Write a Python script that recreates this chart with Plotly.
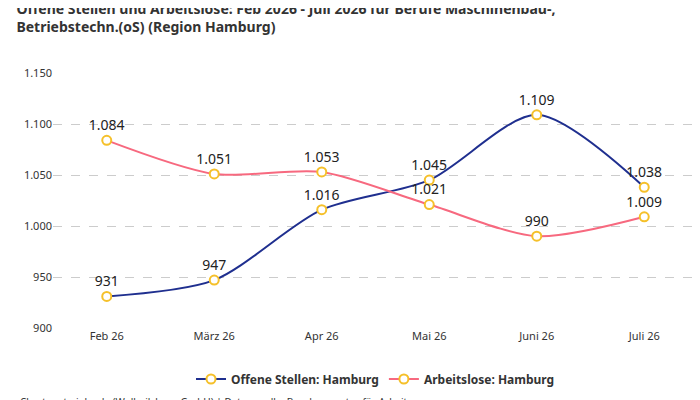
import plotly.graph_objects as go

months = ["Feb 26", "März 26", "Apr 26", "Mai 26", "Juni 26", "Juli 26"]
offene_stellen = [931, 947, 1016, 1045, 1109, 1038]
arbeitslose = [1084, 1051, 1053, 1021, 990, 1009]

fig = go.Figure()

for name, vals, color in [
    ("<b>Offene Stellen: Hamburg</b>", offene_stellen, "#1f2f8f"),
    ("<b>Arbeitslose: Hamburg</b>", arbeitslose, "#f7697f"),
]:
    fig.add_trace(go.Scatter(
        x=months, y=vals, name=name,
        mode="lines+markers+text",
        line=dict(color=color, width=2, shape="spline", smoothing=0.8),
        marker=dict(size=9, color="white", line=dict(color="#f5c02a", width=2)),
        text=[f"{v:,}".replace(",", ".") for v in vals],
        textposition="top center",
        textfont=dict(size=14, color="#222"),
    ))

fig.update_layout(
    width=700, height=400,
    font=dict(family="Noto Sans", color="#333"),
    separators=",.",
    title=dict(
        text="<b>Offene Stellen und Arbeitslose: Feb 2026 - Juli 2026 für Berufe Maschinenbau-,<br>Betriebstechn.(oS) (Region Hamburg)</b>",
        x=0.012, y=0.985, xanchor="left", yanchor="top",
        font=dict(size=14, color="#333"),
    ),
    margin=dict(l=45, r=10, t=65, b=80),
    paper_bgcolor="white", plot_bgcolor="white",
    showlegend=True,
    legend=dict(orientation="h", x=0.5, xanchor="center", y=-0.2, yanchor="middle",
                font=dict(size=12, color="#333")),
)
fig.update_xaxes(showgrid=False, tickfont=dict(size=11), ticks="", range=[-0.5, 5.5])
fig.update_yaxes(range=[900, 1150], dtick=50, tickformat=",d",
                 gridcolor="#cccccc", griddash="dash", zeroline=False,
                 tickfont=dict(size=11))

fig.add_annotation(
    text="Chart: gute-jobs.de (Wollmilchsau GmbH) | Datenquelle: Bundesagentur für Arbeit",
    xref="paper", yref="paper", x=-0.055, y=-0.29, xanchor="left", yanchor="middle",
    showarrow=False, font=dict(size=10, color="#333"),
)

fig.write_html("out.html")
